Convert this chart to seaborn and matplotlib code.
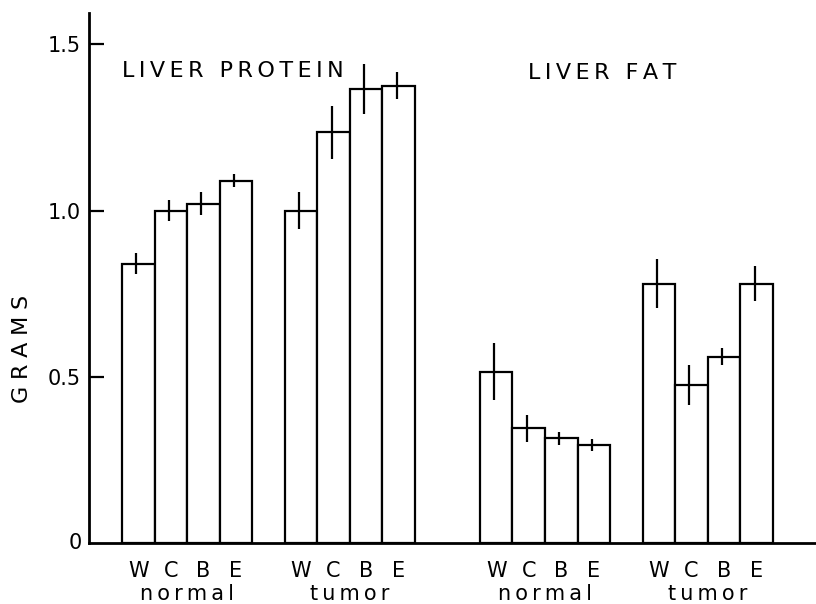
import matplotlib
matplotlib.use("Agg")
import matplotlib.pyplot as plt
import numpy as np
import pandas as pd
import seaborn as sns

# Diet groups and conditions
diets = ["W", "C", "B", "E"]
conditions = ["normal", "tumor", "normal", "tumor"]
measures = ["LIVER PROTEIN", "LIVER PROTEIN", "LIVER FAT", "LIVER FAT"]

# Mean weights (grams) and error half-widths per diet
protein_normal = [0.84, 1.00, 1.02, 1.09]
protein_normal_err = [0.032, 0.032, 0.035, 0.020]
protein_tumor = [1.00, 1.235, 1.365, 1.375]
protein_tumor_err = [0.056, 0.079, 0.075, 0.041]
fat_normal = [0.515, 0.345, 0.315, 0.295]
fat_normal_err = [0.086, 0.041, 0.020, 0.017]
fat_tumor = [0.78, 0.475, 0.56, 0.78]
fat_tumor_err = [0.073, 0.059, 0.025, 0.052]

y_ticks = [0.5, 1.0, 1.5]
y_tick_labels = ["0.5", "1.0", "1.5"]

values = [protein_normal, protein_tumor, fat_normal, fat_tumor]
errors = [protein_normal_err, protein_tumor_err, fat_normal_err, fat_tumor_err]

# slot where each block of four bars starts along the x axis
block_start = [0, 5, 11, 16]

rows = []
for b, (vals, errs) in enumerate(zip(values, errors)):
    for i, d in enumerate(diets):
        rows.append({"pos": block_start[b] + i, "diet": d, "grams": vals[i],
                     "err": errs[i], "condition": conditions[b],
                     "measure": measures[b]})
df = pd.DataFrame(rows)

sns.set_theme(style="white")
plt.rcParams["font.family"] = ["DejaVu Sans"]
plt.rcParams["text.color"] = "black"
plt.rcParams["axes.labelcolor"] = "black"

fig = plt.figure(figsize=(8.16, 6.04), dpi=100)
ax = fig.add_axes([89 / 816, 61 / 604, 1 - 89 / 816, 530 / 604])

sns.barplot(data=df, x="pos", y="grams", native_scale=True, width=1.0,
            color="white", edgecolor="black", linewidth=1.6,
            errorbar=None, ax=ax)
ax.errorbar(df["pos"] - 0.06, df["grams"], yerr=df["err"], fmt="none",
            ecolor="black", elinewidth=1.6, capsize=0)

ax.set_xlim(-1.515, 20.83)
ax.set_ylim(0, 1.594)


def spaced(s, sep="\u2009"):
    return sep.join(s)


# axes styling
for side in ["top", "right"]:
    ax.spines[side].set_visible(False)
for side in ["left", "bottom"]:
    ax.spines[side].set_color("black")
    ax.spines[side].set_linewidth(2.0)

ax.set_yticks(y_ticks)
ax.set_yticklabels(y_tick_labels, fontsize=15, color="black")
ax.tick_params(axis="y", direction="in", length=11, width=1.6, pad=6,
               colors="black", left=True)
ax.text(-0.01, 0, "0", transform=ax.get_yaxis_transform(), ha="right",
        va="center", fontsize=15, color="black")

ax.set_xticks(df["pos"])
ax.set_xticklabels(df["diet"], fontsize=15, color="black")
ax.tick_params(axis="x", length=0, pad=13, colors="black")
ax.set_xlabel("")
ax.set_ylabel("")

for b in range(4):
    center = block_start[b] + 1.5
    ax.text(center, -0.1075, spaced(conditions[b]),
            transform=ax.get_xaxis_transform(), ha="center", va="baseline",
            fontsize=15, color="black")

# vertical axis title
ax.text(-0.092, (543 - 349) / 530, spaced("GRAMS", "\u2009\u200a"),
        transform=ax.transAxes, rotation=90, ha="center", va="center",
        fontsize=16, color="black")

ax.text(-0.5, 1.42, spaced("LIVER PROTEIN"), ha="left", va="center",
        fontsize=16, color="black")
ax.text(11.98, 1.414, spaced("LIVER FAT"), ha="left", va="center",
        fontsize=16, color="black")

fig.savefig("out.png", dpi=100)
